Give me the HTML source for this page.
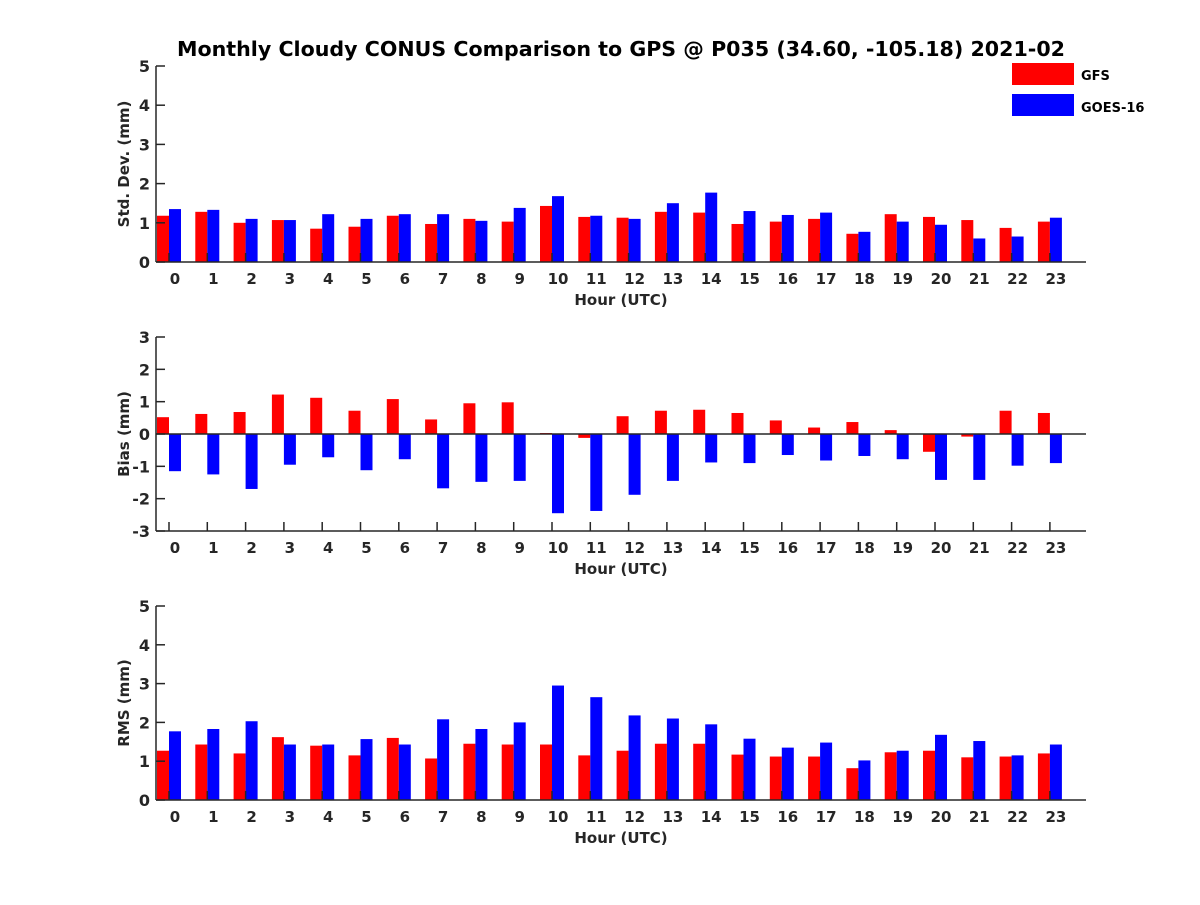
<!DOCTYPE html>
<html><head><meta charset="utf-8"><style>
body{margin:0;background:#fff}
svg text{font-family:"DejaVu Sans","Liberation Sans",sans-serif;font-weight:bold;fill:#262626}
</style></head><body>
<svg id="chart" width="1200" height="900" xmlns="http://www.w3.org/2000/svg">
<rect width="1200" height="900" fill="#fff"/>
<text x="621" y="56" font-size="20.6" text-anchor="middle" style="fill:#000">Monthly Cloudy CONUS Comparison to GPS @ P035 (34.60, -105.18) 2021-02</text>
<g>
<rect x="1012" y="63" width="62" height="22" fill="#ff0000"/>
<text x="1081" y="80" font-size="13" style="fill:#000">GFS</text>
<rect x="1012" y="94" width="62" height="22" fill="#0000ff"/>
<text x="1081" y="112" font-size="13" style="fill:#000">GOES-16</text>
</g>
</svg>
<script>
const hours = [0,1,2,3,4,5,6,7,8,9,10,11,12,13,14,15,16,17,18,19,20,21,22,23];
const stdGFS = [1.18,1.28,1.0,1.07,0.85,0.9,1.18,0.97,1.1,1.03,1.43,1.15,1.13,1.28,1.26,0.97,1.03,1.1,0.72,1.22,1.15,1.07,0.87,1.03];
const stdGOES = [1.35,1.33,1.1,1.07,1.22,1.1,1.22,1.22,1.05,1.38,1.68,1.18,1.1,1.5,1.77,1.3,1.2,1.26,0.77,1.03,0.95,0.6,0.65,1.13];
const biasGFS = [0.52,0.62,0.68,1.22,1.12,0.72,1.08,0.45,0.95,0.98,0.03,-0.12,0.55,0.72,0.75,0.65,0.42,0.2,0.37,0.12,-0.55,-0.08,0.72,0.65];
const biasGOES = [-1.15,-1.25,-1.7,-0.95,-0.72,-1.12,-0.78,-1.68,-1.48,-1.45,-2.45,-2.38,-1.88,-1.45,-0.88,-0.9,-0.65,-0.82,-0.68,-0.78,-1.42,-1.42,-0.98,-0.9];
const rmsGFS = [1.27,1.43,1.2,1.62,1.4,1.15,1.6,1.07,1.45,1.43,1.43,1.15,1.27,1.45,1.45,1.17,1.12,1.12,0.82,1.23,1.27,1.1,1.12,1.2];
const rmsGOES = [1.77,1.83,2.03,1.43,1.43,1.57,1.43,2.08,1.83,2.0,2.95,2.65,2.18,2.1,1.95,1.58,1.35,1.48,1.02,1.27,1.68,1.52,1.15,1.43];
const stdTicks = [0,1,2,3,4,5];
const biasTicks = [-3,-2,-1,0,1,2,3];
const rmsTicks = [0,1,2,3,4,5];

const NS = "http://www.w3.org/2000/svg";
const svg = document.getElementById('chart');
function mk(tag, attrs, parent){const e=document.createElementNS(NS,tag);for(const k in attrs)e.setAttribute(k,attrs[k]);(parent||svg).appendChild(e);return e;}
const xL=156,xR=1086;
function xs(h){return 169+38.3*h;}

function panel(key, top, bottom, ymin, ymax, ticks, a, b, ylabel){
  const g=mk('g',{});
  
  
  const ys=v=>bottom-(v-ymin)/(ymax-ymin)*(bottom-top);
  const base=ys(Math.max(ymin,0));
  hours.forEach((h,i)=>{
    const x=xs(h);
    const r=mk('rect',{x:x-12,width:12,y:Math.min(ys(a[i]),base),height:Math.abs(ys(a[i])-base),fill:'#ff0000'},g);
    
    
    const s=mk('rect',{x:x,width:12,y:Math.min(ys(b[i]),base),height:Math.abs(ys(b[i])-base),fill:'#0000ff'},g);
    
    
  });
  mk('line',{x1:xL,x2:xR,y1:bottom,y2:bottom,stroke:'#262626','stroke-width':1.5},g);
  mk('line',{x1:xL,x2:xL,y1:top,y2:bottom,stroke:'#262626','stroke-width':1.5},g);
  if(ymin<0) mk('line',{x1:xL,x2:xR,y1:ys(0),y2:ys(0),stroke:'#262626','stroke-width':1.5},g);
  ticks.forEach(t=>{
    const y=ys(t);
    mk('line',{x1:xL,x2:xL+9,y1:y,y2:y,stroke:'#262626','stroke-width':1.5},g);
    const tx=mk('text',{x:xL-6,y:y+6,'font-size':16,'text-anchor':'end'},g);
    tx.textContent=t;
    
    
  });
  hours.forEach(h=>{
    const x=xs(h);
    mk('line',{x1:x,x2:x,y1:bottom,y2:bottom-9,stroke:'#262626','stroke-width':1.5},g);
    const tx=mk('text',{x:x+6,y:bottom+22,'font-size':15,'text-anchor':'middle'},g);
    tx.textContent=h;
    
    
  });
  const xt=mk('text',{x:621,y:bottom+43,'font-size':15,'text-anchor':'middle'},g);
  xt.textContent='Hour (UTC)';
  
  
  const cy=(top+bottom)/2;
  const yt=mk('text',{x:0,y:0,'font-size':15,'text-anchor':'middle',transform:`translate(129,${cy}) rotate(-90)`},g);
  yt.textContent=ylabel;
  
  
}
panel('std',66,262,0,5,stdTicks,stdGFS,stdGOES,'Std. Dev. (mm)');
panel('bias',337,531,-3,3,biasTicks,biasGFS,biasGOES,'Bias (mm)');
panel('rms',606,800,0,5,rmsTicks,rmsGFS,rmsGOES,'RMS (mm)');
</script>
</body></html>
